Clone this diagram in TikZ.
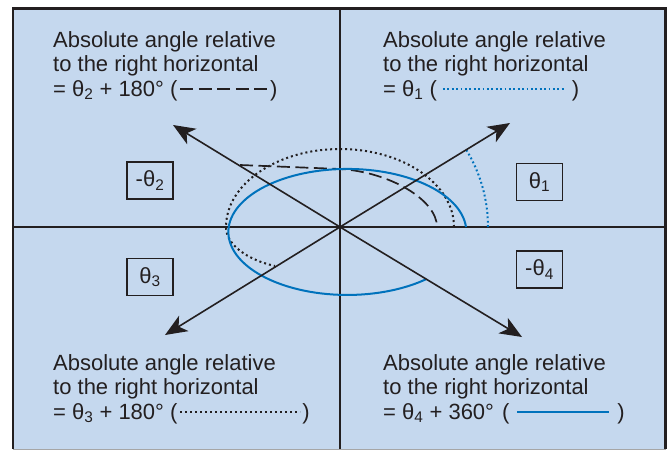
\documentclass[tikz,border=0pt]{standalone}
\usepackage{fontspec}
\setmainfont{Liberation Sans}
\usetikzlibrary{arrows.meta}

\definecolor{panelblue}{RGB}{197,216,238}
\definecolor{curveblue}{RGB}{0,114,188}
\definecolor{inkgray}{RGB}{35,31,32}

\tikzset{
  dashcurve/.style={inkgray, line width=1.7pt, dash pattern=on 13pt off 5.5pt},
  dotcurve/.style={inkgray, line width=2pt, dash pattern=on 2pt off 3pt},
  bluedots/.style={curveblue, line width=2pt, dash pattern=on 1.8pt off 2.6pt},
  bluecurve/.style={curveblue, line width=2pt},
}
\newcommand{\legline}[2]{\tikz[baseline=-7pt]\draw[#1] (0pt,0pt) -- (#2,0pt);}

\begin{document}
\begin{tikzpicture}[x=1pt, y=-1pt,
    axis/.style={inkgray, line width=1.4pt},
    vec/.style={inkgray, line width=1.6pt, -{Stealth[length=22pt, width=18pt, inset=6pt]}},
    anglebox/.style={draw=inkgray, line width=1.4pt, minimum width=46pt, minimum height=37pt,
        inner sep=0pt, text=inkgray, font=\fontsize{22}{24}\selectfont},
    legend/.style={anchor=west, align=left, inner sep=0pt, text=inkgray,
        font=\fontsize{22}{24.5}\selectfont}]
    \useasboundingbox (0,0) rectangle (668,450);

    % panel and its frame
    \fill[panelblue] (13,8.5) rectangle (665.5,449);
    \draw[inkgray, line width=2.2pt] (13,449) -- (13,8.5) -- (665.5,8.5) -- (665.5,449);
    \draw[gray!70, line width=0.8pt] (13,449.2) -- (665.5,449.2);

    % axes through the origin
    \coordinate (o) at (340,227);
    \coordinate (yTop) at (340,8.5);
    \coordinate (yBot) at (340,449);
    \coordinate (xLeft) at (13,227);
    \coordinate (xRight) at (665.5,227);
    \draw[axis] (yTop) -- (yBot);
    \draw[axis] (xLeft) -- (xRight);

    % absolute angles swept from the right horizontal
    \draw[bluedots] (488,227) arc[start angle=0, end angle=-31.5, radius=148];
    \draw[dashcurve] (240,165) -- (340,169) .. controls (390,172) and (437,200) .. (437,227);
    \draw[dotcurve] (454,227) arc[start angle=0, end angle=-180, x radius=114, y radius=78]
        .. controls (226,245) and (248,260) .. (275,266);
    \draw[bluecurve] (466,227) arc[start angle=-4.5, end angle=-311.4, x radius=119, y radius=63];

    % the four vectors
    \coordinate (tip1) at (510,123);
    \coordinate (tip2) at (173,125);
    \coordinate (tip3) at (165,335);
    \coordinate (tip4) at (522,337);
    \draw[vec] (o) -- (tip1);
    \draw[vec] (o) -- (tip2);
    \draw[vec] (o) -- (tip3);
    \draw[vec] (o) -- (tip4);

    % relative angles
    \node[anglebox] (th1) at (539.5,182) {θ\textsubscript{1}};
    \node[anglebox] (th2) at (150,180.5) {-θ\textsubscript{2}};
    \node[anglebox] (th3) at (150,277) {θ\textsubscript{3}};
    \node[anglebox] (th4) at (539.5,269.5) {-θ\textsubscript{4}};

    % legends
    \node[legend] (leg1) at (383,66) {Absolute angle relative\\to the right horizontal\\
        = θ\textsubscript{1} (\hspace{5pt}\legline{bluedots}{122pt}\hspace{6pt})};
    \node[legend] (leg2) at (53,66) {Absolute angle relative\\to the right horizontal\\
        = θ\textsubscript{2} + 180° (\hspace{2pt}\legline{dashcurve}{87pt}\hspace{2pt})};
    \node[legend] (leg3) at (53,389) {Absolute angle relative\\to the right horizontal\\
        = θ\textsubscript{3} + 180° (\hspace{2pt}\legline{dotcurve}{120pt}\hspace{1pt})};
    \node[legend] (leg4) at (383,389) {Absolute angle relative\\to the right horizontal\\
        = θ\textsubscript{4} + 360°\hspace{8pt}(\hspace{7pt}\legline{bluecurve}{92pt}\hspace{7pt})};
\end{tikzpicture}
\end{document}
